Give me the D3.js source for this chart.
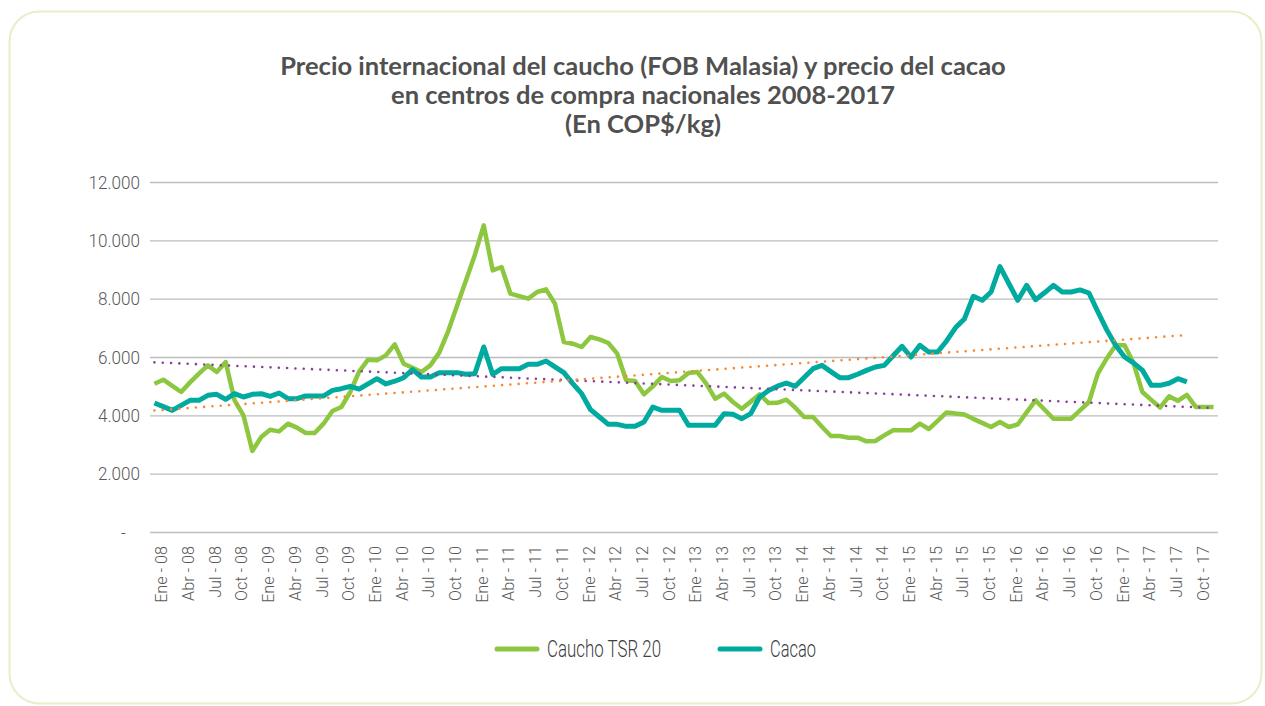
<!DOCTYPE html>
<html>
<head>
<meta charset="utf-8">
<script src="https://cdn.jsdelivr.net/npm/d3@7/dist/d3.min.js"></script>
<style>
	body { margin: 0; background: #fff; }
	text { font-family: 'Liberation Sans Narrow', 'Arial Narrow', Roboto, sans-serif; font-weight: 300; }
	.title { font-family: Lato, 'Open Sans', sans-serif; font-weight: bold; fill: #505050; }
</style>
</head>
<body>
<svg id="chart" width="1265" height="706"></svg>
<script>
// months Dic-07 .. Nov-17
const monthNames = ['Ene', 'Feb', 'Mar', 'Abr', 'May', 'Jun', 'Jul', 'Ago', 'Sep', 'Oct', 'Nov', 'Dic'];
const months = [];
for (let yr = 2007; yr <= 2017; yr++) {
	monthNames.forEach(function(n, i) {
		const key = (yr - 2007) * 12 + i;
		if (key >= 11 && key <= 130) months.push(n + ' - ' + String(yr).slice(2));
	});
}

const caucho = [5085, 5222, 5010, 4800, 5130, 5430, 5714, 5486, 5828, 4514,
	4000, 2780, 3257, 3508, 3450, 3714, 3577, 3394, 3394, 3714,
	4150, 4285, 4800, 5500, 5908, 5885, 6057, 6434, 5771, 5630,
	5486, 5714, 6150, 6880, 7760, 8620, 9500, 10514, 8971, 9086,
	8171, 8085, 8000, 8228, 8320, 7828, 6514, 6457, 6343, 6685,
	6605, 6480, 6114, 5200, 5177, 4720, 4994, 5314, 5177, 5200,
	5450, 5485, 5085, 4571, 4743, 4457, 4228, 4470, 4720, 4420,
	4430, 4537, 4262, 3942, 3942, 3610, 3290, 3290, 3233, 3233,
	3110, 3120, 3314, 3486, 3486, 3486, 3714, 3530, 3810, 4100,
	4060, 4030, 3880, 3740, 3600, 3771, 3600, 3690, 4100, 4514,
	4200, 3886, 3886, 3886, 4170, 4457, 5430, 5950, 6400, 6400,
	5800, 4800, 4530, 4270, 4650, 4500, 4700, 4290, 4290, 4290];

const cacao = [4423, 4300, 4171, 4343, 4514, 4514, 4686, 4720, 4549, 4743,
	4629, 4720, 4743, 4651, 4766, 4571, 4571, 4663, 4663, 4663,
	4857, 4914, 4994, 4900, 5080, 5257, 5075, 5170, 5290, 5566,
	5314, 5314, 5463, 5463, 5463, 5406, 5429, 6343, 5406, 5600,
	5600, 5600, 5748, 5748, 5863, 5660, 5463, 5086, 4743, 4194,
	3943, 3691, 3691, 3623, 3623, 3771, 4286, 4171, 4171, 4171,
	3657, 3657, 3657, 3657, 4057, 4034, 3886, 4057, 4628, 4850,
	5000, 5108, 4994, 5300, 5600, 5714, 5500, 5291, 5291, 5410,
	5540, 5657, 5714, 6040, 6366, 6000, 6400, 6171, 6171, 6550,
	7000, 7300, 8080, 7943, 8229, 9100, 8520, 7943, 8457, 7966,
	8200, 8457, 8229, 8229, 8300, 8194, 7550, 6930, 6400, 6000,
	5800, 5550, 5029, 5029, 5100, 5257, 5150];

const yTicks = [0, 2000, 4000, 6000, 8000, 10000, 12000];
const titleLines = ['Precio internacional del caucho (FOB Malasia) y precio del cacao',
	'en centros de compra nacionales 2008-2017', '(En COP$/kg)'];
const series = [
	{ name: 'Caucho TSR 20', values: caucho, color: '#8DC63F', width: 4.5, trend: '#8B3F9B' },
	{ name: 'Cacao', values: cacao, color: '#00AA9E', width: 5, trend: '#F58A33' }
];

const svg = d3.select('#chart');
const margin = { top: 182, left: 150, bottom: 174, right: 47 };
const width = 1265 - margin.left - margin.right;
const height = 706 - margin.top - margin.bottom;

// squeeze text to a narrower width, like a condensed face
function condense(sel, f) {
	sel.each(function() {
		const w = this.getComputedTextLength();
		d3.select(this).attr('textLength', w * f).attr('lengthAdjust', 'spacingAndGlyphs');
	});
}

// card border
svg.append('rect')
	.attr('x', 9.5).attr('y', 11.5)
	.attr('width', 1252).attr('height', 692)
	.attr('rx', 30)
	.attr('fill', 'none')
	.attr('stroke', '#E5EFC8')
	.attr('stroke-width', 2);

// title
const title = svg.append('text').attr('class', 'title').attr('text-anchor', 'middle')
	.style('font-size', '22px');
titleLines.forEach(function(t, i) {
	title.append('tspan').attr('x', 643).attr('y', 75 + i * 29).text(t);
});
const w0 = title.select('tspan').node().getComputedTextLength();
title.style('font-size', (22 * 726 / w0) + 'px');

const x = d3.scaleBand().domain(months).range([0, width]);
const y = d3.scaleLinear().domain([0, 12000]).range([height, 0]);
const px = function(i) { return x(months[i]) + x.bandwidth() / 2; };

const locale = d3.formatLocale({ decimal: ',', thousands: '.', grouping: [3], currency: ['$', ''] });
const fmt = locale.format(',');

const group = svg.append('g')
	.attr('transform', 'translate(' + [margin.left, margin.top] + ')');

// y axis + grid
const yAxis = group.append('g').attr('class', 'y axis')
	.call(d3.axisLeft(y).tickValues(yTicks).tickSize(-width).tickPadding(10)
		.tickFormat(function(d) { return d === 0 ? '-' : fmt(d); }));
yAxis.select('.domain').remove();
yAxis.selectAll('line').attr('stroke', '#BDBDBD').attr('stroke-width', 1.3);
yAxis.selectAll('text')
	.attr('fill', '#595959')
	.style('font-size', '19px')
	.attr('dx', function(d) { return d === 0 ? -14 : 0; })
	.call(condense, 0.9);

// x axis labels
const xAxis = group.append('g').attr('class', 'x axis')
	.attr('transform', 'translate(0,' + height + ')')
	.call(d3.axisBottom(x).tickValues(months.filter(function(d, i) { return i % 3 === 1; }))
		.tickSize(0).tickPadding(0));
xAxis.select('.domain').remove();
xAxis.selectAll('text')
	.attr('fill', '#595959')
	.style('font-size', '17px')
	.attr('text-anchor', 'end')
	.attr('transform', 'rotate(-90)')
	.attr('x', -14)
	.attr('y', -2)
	.attr('dy', '0.35em')
	.call(condense, 0.95);

// lines
const plot = group.append('g').attr('class', 'plot');
const line = d3.line()
	.x(function(d, i) { return px(i); })
	.y(function(d) { return y(d); });

series.forEach(function(s) {
	plot.append('path')
		.datum(s.values)
		.attr('fill', 'none')
		.attr('stroke', s.color)
		.attr('stroke-width', s.width)
		.attr('stroke-linejoin', 'round')
		.attr('d', line);
});

// linear trendlines
series.forEach(function(s) {
	const n = s.values.length;
	const mx = d3.mean(s.values, function(d, i) { return i; });
	const my = d3.mean(s.values);
	let sxy = 0, sxx = 0;
	s.values.forEach(function(v, i) { sxy += (i - mx) * (v - my); sxx += (i - mx) * (i - mx); });
	const b = sxy / sxx, a = my - b * mx;
	plot.append('line')
		.attr('x1', px(0)).attr('y1', y(a))
		.attr('x2', px(n - 1)).attr('y2', y(a + b * (n - 1)))
		.attr('stroke', s.trend)
		.attr('stroke-width', 2.6)
		.attr('stroke-linecap', 'round')
		.attr('stroke-dasharray', '0 8.3');
});

// legend
const legend = svg.append('g').attr('class', 'legend');
const legendX = [497, 720];
const legendW = [114, 46];
series.forEach(function(s, i) {
	legend.append('line')
		.attr('x1', legendX[i]).attr('x2', legendX[i] + 40)
		.attr('y1', 649).attr('y2', 649)
		.attr('stroke', s.color)
		.attr('stroke-width', 5)
		.attr('stroke-linecap', 'round');
	legend.append('text')
		.attr('x', legendX[i] + 50).attr('y', 657)
		.attr('fill', '#404040')
		.style('font-size', '23px')
		.attr('textLength', legendW[i])
		.attr('lengthAdjust', 'spacingAndGlyphs')
		.text(s.name);
});
</script>
</body>
</html>
